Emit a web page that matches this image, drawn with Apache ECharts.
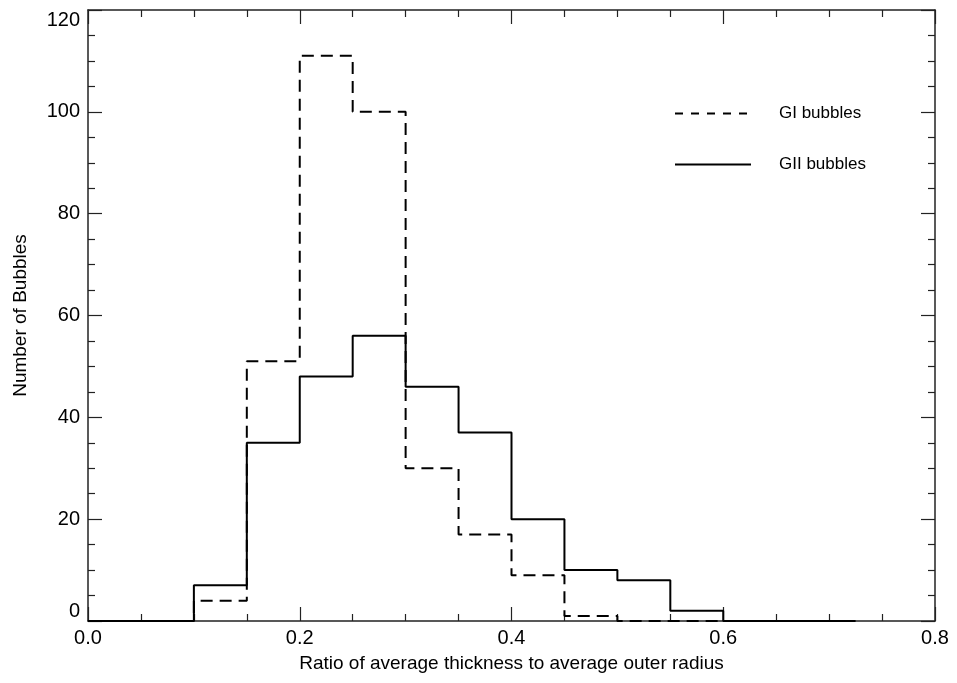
<!DOCTYPE html>
<html>
<head>
<meta charset="utf-8">
<script src="https://cdn.jsdelivr.net/npm/echarts@6/dist/echarts.min.js"></script>
<style>
  html, body { margin: 0; padding: 0; background: #fff; }
  #main { width: 957px; height: 683px; }
</style>
</head>
<body>
<div id="main"></div>
<script>
// bin left edges (width 0.05) and where the histogram line stops
var binStart = [0, 0.05, 0.1, 0.15, 0.2, 0.25, 0.3, 0.35, 0.4, 0.45, 0.5, 0.55, 0.6, 0.65, 0.7];
var lineEnd = 0.725;
// counts per bin
var giCounts = [0, 0, 4, 51, 111, 100, 30, 17, 9, 1, 0, 0, 0, 0, 0];
var giiCounts = [0, 0, 7, 35, 48, 56, 46, 37, 20, 10, 8, 2, 0, 0, 0];
var xTicks = ['0.0', '0.2', '0.4', '0.6', '0.8'];

// turn bins into step points
function steps(counts) {
  var pts = binStart.map(function (x, i) { return [x, counts[i]]; });
  pts.push([lineEnd, counts[counts.length - 1]]);
  return pts;
}

var font = 'Liberation Sans, Arial, Helvetica, sans-serif';
var axisCol = '#222';

function xAx(show) {
  return {
    type: 'value', min: 0, max: 0.8, interval: 0.2,
    position: show ? 'bottom' : 'top',
    axisLine: { show: true, onZero: false, lineStyle: { color: axisCol, width: 1.5 } },
    axisTick: { show: true, inside: true, length: 14, lineStyle: { color: axisCol, width: 1.2 } },
    minorTick: { show: true, splitNumber: 4, length: 7, lineStyle: { color: axisCol, width: 1.2 } },
    axisLabel: {
      show: show, color: '#000', fontSize: 20, fontFamily: font, margin: 7,
      formatter: function (v) { return xTicks[Math.round(v / 0.2)]; }
    },
    splitLine: { show: false },
    name: show ? 'Ratio of average thickness to average outer radius' : '',
    nameLocation: 'middle', nameGap: 33,
    nameTextStyle: { color: '#000', fontSize: 19, fontFamily: font }
  };
}

function yAx(show) {
  return {
    type: 'value', min: 0, max: 120, interval: 20,
    position: show ? 'left' : 'right',
    axisLine: { show: true, onZero: false, lineStyle: { color: axisCol, width: 1.5 } },
    axisTick: { show: true, inside: true, length: 14, lineStyle: { color: axisCol, width: 1.2 } },
    minorTick: { show: true, splitNumber: 4, length: 7, lineStyle: { color: axisCol, width: 1.2 } },
    axisLabel: {
      show: show, color: '#000', fontSize: 20, fontFamily: font, margin: 8,
      verticalAlignMinLabel: 'bottom', verticalAlignMaxLabel: 'top'
    },
    splitLine: { show: false },
    name: show ? 'Number of Bubbles' : '',
    nameLocation: 'middle', nameGap: 58,
    nameTextStyle: { color: '#000', fontSize: 19, fontFamily: font }
  };
}

var chart = echarts.init(document.getElementById('main'), null, { renderer: 'canvas' });
chart.setOption({
  backgroundColor: '#fff',
  animation: false,
  grid: { left: 88, right: 22, top: 10, bottom: 62, containLabel: false, outerBoundsMode: 'none' },
  legend: {
    orient: 'vertical', left: 669, top: 100,
    itemWidth: 76, itemHeight: 14, itemGap: 34,
    itemStyle: { color: 'rgba(0,0,0,0)', borderWidth: 0 },
    textStyle: { color: '#000', fontSize: 17, fontFamily: font, padding: [0, 0, 0, 23] },
    data: [
      { name: 'GI bubbles', lineStyle: { type: [8, 8] } },
      { name: 'GII bubbles' }
    ]
  },
  xAxis: [xAx(true), xAx(false)],
  yAxis: [yAx(true), yAx(false)],
  series: [
    {
      name: 'GI bubbles', type: 'line', step: 'end', symbol: 'none',
      data: steps(giCounts),
      lineStyle: { color: '#000', width: 2, type: [12, 7] },
      itemStyle: { color: '#000' }
    },
    {
      name: 'GII bubbles', type: 'line', step: 'end', symbol: 'none',
      data: steps(giiCounts),
      lineStyle: { color: '#000', width: 2, type: 'solid' },
      itemStyle: { color: '#000' }
    }
  ]
});
</script>
</body>
</html>
